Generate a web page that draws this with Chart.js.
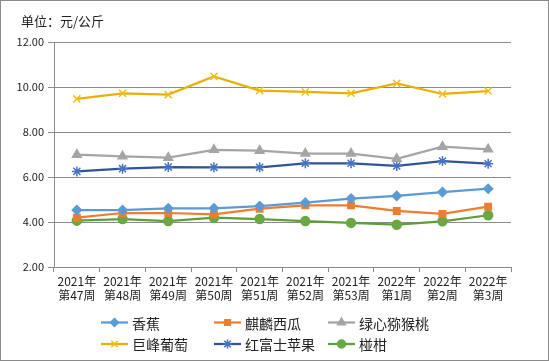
<!DOCTYPE html>
<html>
<head>
<meta charset="utf-8">
<script src="https://cdn.jsdelivr.net/npm/chart.js@4"></script>
<style>
  html, body { margin: 0; padding: 0; background: #fff; }
  #wrap { width: 549px; height: 361px; position: relative; }
</style>
</head>
<body>
<div id="wrap"><canvas id="chart" width="549" height="361"></canvas></div>
<script>
// ---- datos ----
const weeks = [
  ["2021年", "第47周"], ["2021年", "第48周"], ["2021年", "第49周"], ["2021年", "第50周"],
  ["2021年", "第51周"], ["2021年", "第52周"], ["2021年", "第53周"], ["2022年", "第1周"],
  ["2022年", "第2周"], ["2022年", "第3周"]
];
const seriesNames = ["香蕉", "麒麟西瓜", "绿心猕猴桃", "巨峰葡萄", "红富士苹果", "椪柑"];
const banana    = [4.53, 4.53, 4.61, 4.61, 4.71, 4.86, 5.04, 5.16, 5.33, 5.48];
const watermelon = [4.19, 4.40, 4.40, 4.34, 4.59, 4.74, 4.74, 4.49, 4.36, 4.68];
const kiwi      = [6.99, 6.92, 6.86, 7.21, 7.17, 7.04, 7.04, 6.81, 7.35, 7.23];
const grape     = [9.47, 9.72, 9.66, 10.47, 9.84, 9.78, 9.72, 10.16, 9.69, 9.82];
const apple     = [6.25, 6.37, 6.44, 6.43, 6.43, 6.61, 6.61, 6.49, 6.71, 6.59];
const ponkan    = [4.06, 4.13, 4.04, 4.19, 4.13, 4.04, 3.96, 3.88, 4.03, 4.30];
const yTicks = [2, 4, 6, 8, 10, 12];

const FONT = "'Noto Sans CJK SC', 'Noto Sans', sans-serif";

function serie(label, data, color, pointStyle, pointColor, radius) {
  return {
    label, data,
    borderColor: color,
    backgroundColor: pointColor || color,
    pointBorderColor: pointColor || color,
    pointBackgroundColor: pointColor || color,
    pointStyle,
    pointRadius: radius,
    pointBorderWidth: 1.5,
    borderWidth: 2.25,
    tension: 0
  };
}

const datasets = [
  serie(seriesNames[0], banana, "#5B9BD5", "rectRot", null, 4.5),
  serie(seriesNames[1], watermelon, "#ED7D31", "rect", null, 4.5),
  serie(seriesNames[2], kiwi, "#A5A5A5", "triangle", null, 5),
  serie(seriesNames[3], grape, "#E8B000", "crossRot", "#F2BE1A", 5),
  serie(seriesNames[4], apple, "#2F5597", "star", "#4472C4", 5),
  serie(seriesNames[5], ponkan, "#5E9E3A", "circle", "#6AA843", 4.5)
];

// titulo, marco y leyenda dibujados a mano
const extras = {
  id: "extras",
  afterDraw(chart) {
    const ctx = chart.ctx;
    ctx.save();
    ctx.strokeStyle = "#8a8a8a";
    ctx.lineWidth = 1;
    ctx.strokeRect(0.5, 0.5, 548, 360);

    ctx.fillStyle = "#222";
    ctx.font = "13px " + FONT;
    ctx.textBaseline = "middle";
    ctx.textAlign = "left";
    ctx.fillText("单位：元/公斤", 21, 21);

    // leyenda 3 x 2
    const cols = [101, 214, 328];
    const rows = [322.5, 344];
    ctx.font = "14px " + FONT;
    chart.data.datasets.forEach((ds, i) => {
      const x = cols[i % 3], y = rows[Math.floor(i / 3)];
      ctx.strokeStyle = ds.borderColor;
      ctx.lineWidth = 2.25;
      ctx.beginPath();
      ctx.moveTo(x, y);
      ctx.lineTo(x + 27, y);
      ctx.stroke();
      ctx.fillStyle = ds.pointBackgroundColor;
      ctx.strokeStyle = ds.pointBorderColor;
      ctx.lineWidth = 1.5;
      Chart.helpers.drawPoint(ctx, { pointStyle: ds.pointStyle, radius: ds.pointRadius - 0.5, rotation: 0, borderWidth: 1.5 }, x + 13.5, y);
      ctx.fillStyle = "#222";
      ctx.fillText(ds.label, x + 31, y + 1);
    });
    ctx.restore();
  }
};

new Chart(document.getElementById("chart"), {
  type: "line",
  data: { labels: weeks, datasets },
  options: {
    responsive: false,
    animation: false,
    layout: { padding: { left: 0, right: 38, top: 42, bottom: 49 } },
    plugins: { legend: { display: false }, tooltip: { enabled: false } },
    scales: {
      x: {
        offset: true,
        grid: { offset: true, drawOnChartArea: false, color: "#8a8a8a", tickLength: 5, lineWidth: 1 },
        border: { color: "#8a8a8a", width: 1 },
        ticks: { color: "#222", font: { family: FONT, size: 12 }, padding: 2, maxRotation: 0, autoSkip: false },
        afterFit(scale) { scale.height = 45; }
      },
      y: {
        min: 2, max: 12,
        afterBuildTicks(scale) { scale.ticks = yTicks.map(v => ({ value: v })); },
        grid: { color: "#8a8a8a", tickLength: 6, lineWidth: 1 },
        border: { color: "#8a8a8a", width: 1 },
        ticks: { color: "#222", font: { family: FONT, size: 11 }, padding: 4, callback: v => v.toFixed(2) },
        afterFit(scale) { scale.width = 54; }
      }
    }
  },
  plugins: [extras]
});
</script>
</body>
</html>
